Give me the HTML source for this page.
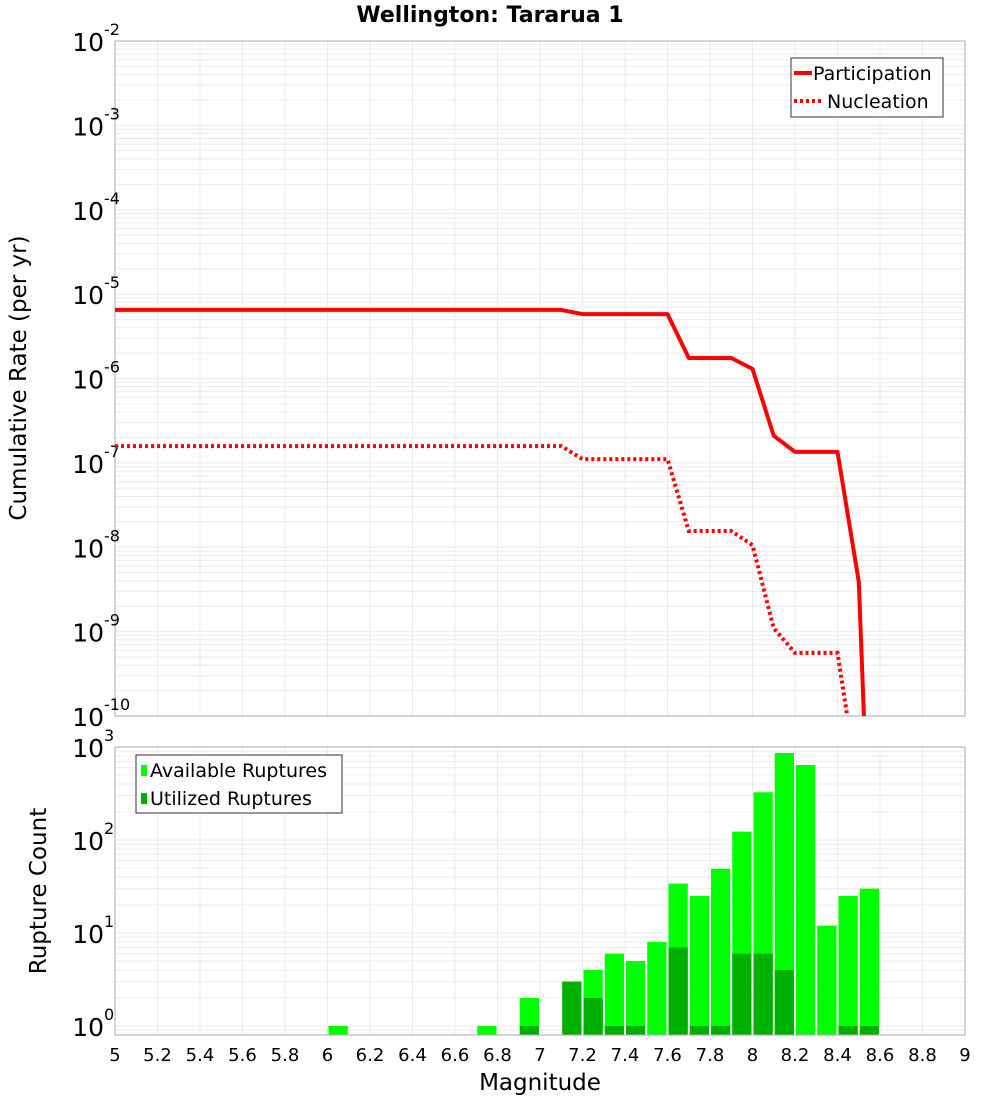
<!DOCTYPE html>
<html><head><meta charset="utf-8"><style>
body{margin:0;background:#fff;}
svg{display:block;font-family:"DejaVu Sans","Liberation Sans",sans-serif;}
</style></head><body>
<svg id="chart" width="1000" height="1100" xmlns="http://www.w3.org/2000/svg">
<text x="490" y="22" text-anchor="middle" font-size="22" font-weight="bold">Wellington: Tararua 1</text>
<text transform="translate(26,378) rotate(-90)" text-anchor="middle" font-size="23">Cumulative Rate (per yr)</text>
<text transform="translate(46,891) rotate(-90)" text-anchor="middle" font-size="23">Rupture Count</text>
<text x="540" y="1090" text-anchor="middle" font-size="23">Magnitude</text>
<g id="topPlot"></g><g id="botPlot"></g>
</svg>
<script>
const mags=[5,5.1,5.2,5.3,5.4,5.5,5.6,5.7,5.8,5.9,6,6.1,6.2,6.3,6.4,6.5,6.6,6.7,6.8,6.9,7,7.1,7.2,7.3,7.4,7.5,7.6,7.7,7.8,7.9,8,8.1,8.2,8.3,8.4,8.5,8.6];
const participation=[6.5e-6,6.5e-6,6.5e-6,6.5e-6,6.5e-6,6.5e-6,6.5e-6,6.5e-6,6.5e-6,6.5e-6,6.5e-6,6.5e-6,6.5e-6,6.5e-6,6.5e-6,6.5e-6,6.5e-6,6.5e-6,6.5e-6,6.5e-6,6.5e-6,6.5e-6,5.8e-6,5.8e-6,5.8e-6,5.8e-6,5.8e-6,1.75e-6,1.75e-6,1.75e-6,1.3e-6,2.1e-7,1.35e-7,1.35e-7,1.35e-7,3.9e-9,1e-15];
const nucleation=[1.58e-7,1.58e-7,1.58e-7,1.58e-7,1.58e-7,1.58e-7,1.58e-7,1.58e-7,1.58e-7,1.58e-7,1.58e-7,1.58e-7,1.58e-7,1.58e-7,1.58e-7,1.58e-7,1.58e-7,1.58e-7,1.58e-7,1.58e-7,1.58e-7,1.58e-7,1.11e-7,1.11e-7,1.11e-7,1.11e-7,1.11e-7,1.56e-8,1.56e-8,1.56e-8,1.06e-8,1.1e-9,5.6e-10,5.6e-10,5.6e-10,1.3e-11,1e-15];
const binCenters=[6.05,6.75,6.95,7.15,7.25,7.35,7.45,7.55,7.65,7.75,7.85,7.95,8.05,8.15,8.25,8.35,8.45,8.55];
const available=[1,1,2,3,4,6,5,8,34,25,49,123,326,862,640,12,25,30];
const utilized=[0,0,1,3,2,1,1,0,7,1,1,6,6,4,0,0,1,1];
const xTicks=[5,5.2,5.4,5.6,5.8,6,6.2,6.4,6.6,6.8,7,7.2,7.4,7.6,7.8,8,8.2,8.4,8.6,8.8,9];
const topExps=[-2,-3,-4,-5,-6,-7,-8,-9,-10];
const botExps=[0,1,2,3];

const NS="http://www.w3.org/2000/svg";
const L=115,R=965;
const X=m=>L+(m-5)/4*(R-L);
const T0=41,T1=716;
const YT=v=>T0+(-2-Math.log10(v))*(T1-T0)/8;
const B0=747,B1=1035;
const YB=v=>1026-Math.log10(v)*93;
function mk(p,tag,a){const e=document.createElementNS(NS,tag);for(const k in a)e.setAttribute(k,a[k]);p.appendChild(e);return e;}
const topG=document.getElementById('topPlot'),botG=document.getElementById('botPlot');

const defs=mk(document.getElementById('chart'),'defs',{});
const c1=mk(defs,'clipPath',{id:'ct'});mk(c1,'rect',{x:L,y:T0,width:R-L,height:T1-T0});
const c2=mk(defs,'clipPath',{id:'cb'});mk(c2,'rect',{x:L,y:B0,width:R-L,height:B1-B0});

const tg=mk(topG,'g',{stroke:'#ebebeb','stroke-width':1});


for(let e=-10;e<-2;e++)for(let k=1;k<10;k++){const y=YT(k*Math.pow(10,e));mk(tg,'line',{x1:L,x2:R,y1:y,y2:y});}
xTicks.forEach(t=>{const x=X(t);mk(tg,'line',{x1:x,x2:x,y1:T0,y2:T1});mk(tg,'line',{x1:x,x2:x,y1:B0,y2:B1});});
mk(topG,'rect',{x:L,y:T0,width:R-L,height:T1-T0,fill:'none',stroke:'#aaa'});
topExps.forEach(e=>{const y=YT(Math.pow(10,e));
 const t=mk(topG,'text',{x:104,y:y+10,'text-anchor':'end','font-size':25});
 
 
 t.textContent='10';
 const s=mk(topG,'text',{x:104,y:y-6,'font-size':16});
 
 
 s.textContent=String(e);});
const lg=mk(topG,'g',{'clip-path':'url(#ct)'});
function pts(arr){return mags.map((m,i)=>X(m).toFixed(1)+','+YT(arr[i]).toFixed(1)).join(' ');}
const pl=mk(lg,'polyline',{points:pts(participation),fill:'none',stroke:'#f00','stroke-width':4,'stroke-linejoin':'round'});


const nl=mk(lg,'polyline',{points:pts(nucleation),fill:'none',stroke:'#f00','stroke-width':4,'stroke-dasharray':'3,3'});


const tl=mk(topG,'g',{});


mk(tl,'rect',{x:791,y:58,width:152,height:59,fill:'#fff',stroke:'#333'});
mk(tl,'line',{x1:794,x2:812,y1:73,y2:73,stroke:'#f00','stroke-width':4});
mk(tl,'line',{x1:794,x2:822,y1:101,y2:101,stroke:'#f00','stroke-width':4,'stroke-dasharray':'3,3'});
const lt1=mk(tl,'text',{x:813,y:80,'font-size':19});lt1.textContent='Participation';


const lt2=mk(tl,'text',{x:827,y:108,'font-size':19});lt2.textContent='Nucleation';



const bg=mk(botG,'g',{stroke:'#ebebeb','stroke-width':1});


for(let e=-1;e<3;e++)for(let k=1;k<10;k++){const y=YB(k*Math.pow(10,e));if(y<=B1&&y>=B0)mk(bg,'line',{x1:L,x2:R,y1:y,y2:y});}
const bb=mk(botG,'g',{'clip-path':'url(#cb)'});
const bw=X(5.1)-X(5)-2;
binCenters.forEach((c,i)=>{const x=X(c)-bw/2;
 if(available[i]>0){const y=YB(available[i]);const r=mk(bb,'rect',{x:x,y:y,width:bw,height:B1-y,fill:'#00ff00'});
  
  }
 if(utilized[i]>0){const y=YB(utilized[i]);const r=mk(bb,'rect',{x:x,y:y,width:bw,height:B1-y,fill:'#00b000'});
  
  }
});
mk(botG,'rect',{x:L,y:B0,width:R-L,height:B1-B0,fill:'none',stroke:'#aaa'});
botExps.forEach(e=>{const y=YB(Math.pow(10,e));
 const t=mk(botG,'text',{x:104,y:y+10,'text-anchor':'end','font-size':25});
 
 
 t.textContent='10';
 const s=mk(botG,'text',{x:104,y:y-6,'font-size':16});
 
 
 s.textContent=String(e);});
xTicks.forEach(t=>{const el=mk(botG,'text',{x:X(t),y:1061,'text-anchor':'middle','font-size':18});
 
 
 el.textContent=String(t);});
const bl=mk(botG,'g',{});


mk(bl,'rect',{x:136,y:755,width:206,height:58,fill:'#fff',stroke:'#333'});
mk(bl,'rect',{x:141,y:765,width:6,height:11,fill:'#00ff00'});
mk(bl,'rect',{x:141,y:793,width:6,height:11,fill:'#00b000'});
const b1=mk(bl,'text',{x:150,y:777,'font-size':19});b1.textContent='Available Ruptures';


const b2=mk(bl,'text',{x:150,y:805,'font-size':19});b2.textContent='Utilized Ruptures';


</script>
</body></html>
